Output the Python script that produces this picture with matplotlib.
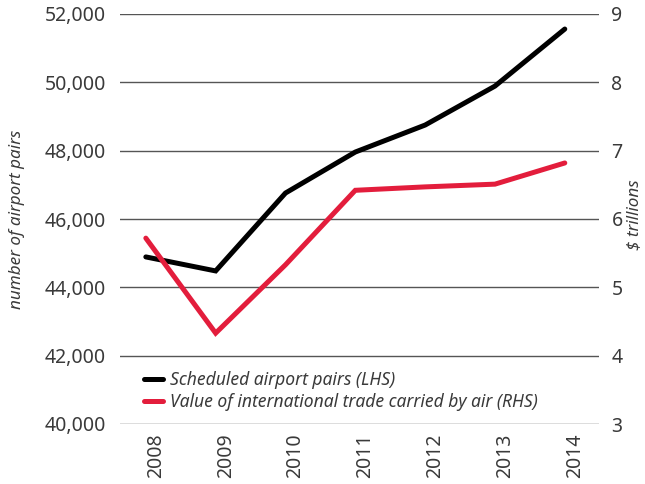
import matplotlib
matplotlib.use("Agg")
import matplotlib.pyplot as plt

years = [2008, 2009, 2010, 2011, 2012, 2013, 2014]
airport_pairs = [44890, 44480, 46760, 47960, 48750, 49890, 51560]
trade_value = [5.72, 4.33, 5.33, 6.42, 6.47, 6.51, 6.82]
left_ticks = [40000, 42000, 44000, 46000, 48000, 50000, 52000]
right_ticks = [3, 4, 5, 6, 7, 8, 9]

plt.rcParams['font.family'] = ['Noto Sans', 'DejaVu Sans']

fig = plt.figure(figsize=(6.45, 4.84), dpi=100)
ax = fig.add_axes([120/645, 1-424/484, (599-120)/645, (424-14)/484])
ax2 = ax.twinx()

black = '#000000'
red = '#E31D3C'
grid_c = '#555555'
text_c = '#3a3a3a'

ax.plot(years, airport_pairs, color=black, lw=3.6, solid_capstyle='round',
        solid_joinstyle='miter', label='Scheduled airport pairs (LHS)', zorder=3)
ax2.plot(years, trade_value, color=red, lw=3.6, solid_capstyle='round',
         solid_joinstyle='miter', label='Value of international trade carried by air (RHS)', zorder=3)

ax.set_xlim(2007.63, 2014.49)
ax.set_ylim(40000, 52000)
ax2.set_ylim(3, 9)

ax.set_yticks(left_ticks)
ax.set_yticklabels([f"{v:,}" for v in left_ticks])
ax2.set_yticks(right_ticks)
ax2.set_yticklabels([str(v) for v in right_ticks])

for y in left_ticks:
    ax.axhline(y, color=grid_c, lw=1.0, zorder=1)

ax.set_xticks(years)
ax.set_xticklabels([str(y) for y in years], rotation=90, va='top', ha='left')

for a in (ax, ax2):
    for s in a.spines.values():
        s.set_visible(False)
    a.tick_params(length=0, labelsize=14, labelcolor=text_c)
ax.tick_params(axis='y', pad=10)
ax2.tick_params(axis='y', pad=9)
ax.tick_params(axis='x', pad=7)

for lbl in ax.get_yticklabels() + ax2.get_yticklabels() + ax.get_xticklabels():
    lbl.set_fontweight(300)

ax.set_ylabel('number of airport pairs', fontsize=12.3, style='italic',
              color=text_c, labelpad=14, fontweight=300)
fig.text(634/645, 1-215/484, '$ trillions', rotation=90, fontsize=12.3, style='italic',
         color=text_c, ha='center', va='center', fontweight=300)

h1, l1 = ax.get_legend_handles_labels()
h2, l2 = ax2.get_legend_handles_labels()
leg = ax2.legend(h1 + h2, l1 + l2, loc='upper left', bbox_to_anchor=(0.035, 0.146),
                 frameon=False, fontsize=12.6, handlelength=1.1, handletextpad=0.4,
                 labelspacing=0.22, borderaxespad=0)
for t in leg.get_texts():
    t.set_style('italic')
    t.set_color(text_c)
    t.set_fontweight(300)

fig.savefig('out.png', dpi=100)
